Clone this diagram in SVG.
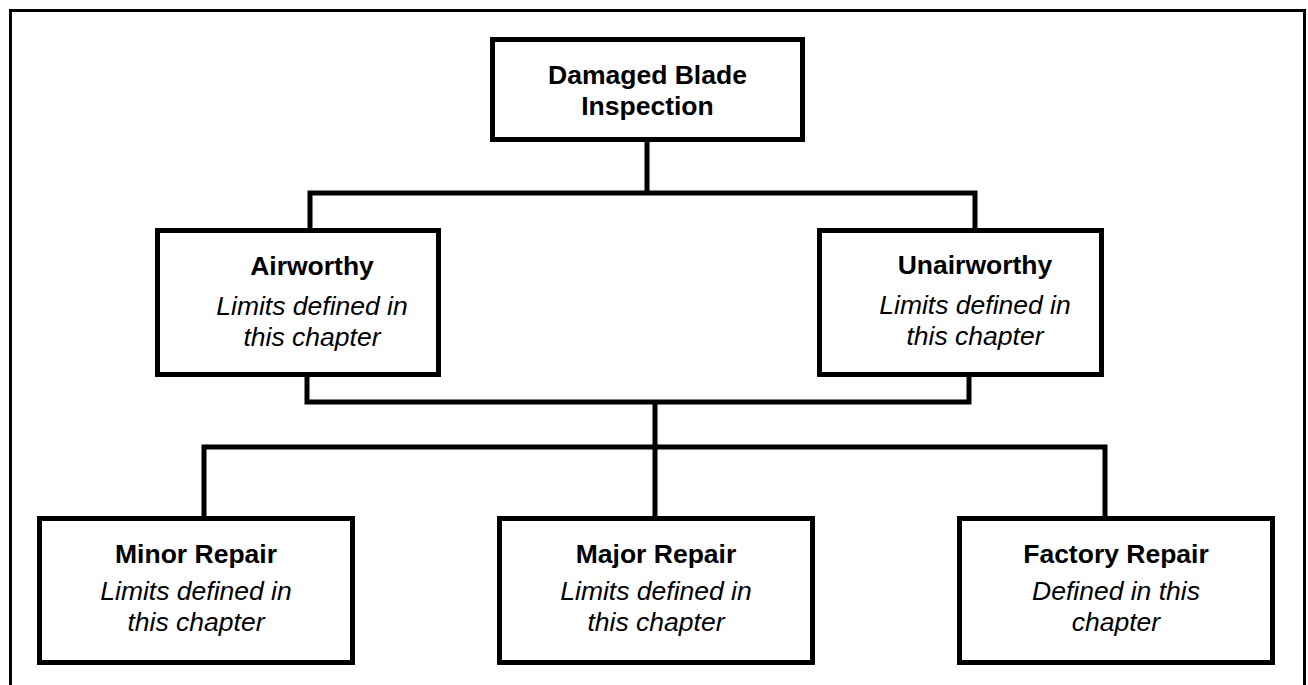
<svg xmlns="http://www.w3.org/2000/svg" width="1308" height="685" viewBox="0 0 1308 685">
<style>
.box{fill:#fff;stroke:#000;stroke-width:5}
.conn{fill:none;stroke:#000;stroke-width:5;stroke-linejoin:miter;stroke-linecap:butt}
.t{font-family:"Liberation Sans",Arial,sans-serif;font-size:26.5px;text-anchor:middle;fill:#000}
.b{font-weight:bold}
.i{font-style:italic}
</style>
<rect x="0" y="0" width="1308" height="685" fill="#fff"/>
<rect x="10.5" y="10.5" width="1294" height="720" fill="none" stroke="#000" stroke-width="3"/>
<g id="connectors">
<path class="conn" d="M647,142 V193 M310,228 V193 H975 V228"/>
<path class="conn" d="M307,377 V402 H969 V377 M655,402 V516 M204,516 V447 H1105 V516"/>
</g>
<g id="inspection">
<rect class="box" x="492.5" y="39.5" width="310" height="100"/>
<text class="t b" x="647.5" y="84">Damaged Blade</text>
<text class="t b" x="647.5" y="115">Inspection</text>
</g>
<g id="airworthy">
<rect class="box" x="157.5" y="230.5" width="281" height="144"/>
<text class="t b" x="312" y="275">Airworthy</text>
<text class="t i" x="312" y="315">Limits defined in</text>
<text class="t i" x="312" y="346">this chapter</text>
</g>
<g id="unairworthy">
<rect class="box" x="819.5" y="230.5" width="282" height="144"/>
<text class="t b" x="975" y="274">Unairworthy</text>
<text class="t i" x="975" y="314">Limits defined in</text>
<text class="t i" x="975" y="345">this chapter</text>
</g>
<g id="minor">
<rect class="box" x="39.5" y="518.5" width="313" height="144"/>
<text class="t b" x="196" y="563">Minor Repair</text>
<text class="t i" x="196" y="600">Limits defined in</text>
<text class="t i" x="196" y="631">this chapter</text>
</g>
<g id="major">
<rect class="box" x="499.5" y="518.5" width="313" height="144"/>
<text class="t b" x="656" y="563">Major Repair</text>
<text class="t i" x="656" y="600">Limits defined in</text>
<text class="t i" x="656" y="631">this chapter</text>
</g>
<g id="factory">
<rect class="box" x="959.5" y="518.5" width="313" height="144"/>
<text class="t b" x="1116" y="563">Factory Repair</text>
<text class="t i" x="1116" y="600">Defined in this</text>
<text class="t i" x="1116" y="631">chapter</text>
</g>
</svg>
